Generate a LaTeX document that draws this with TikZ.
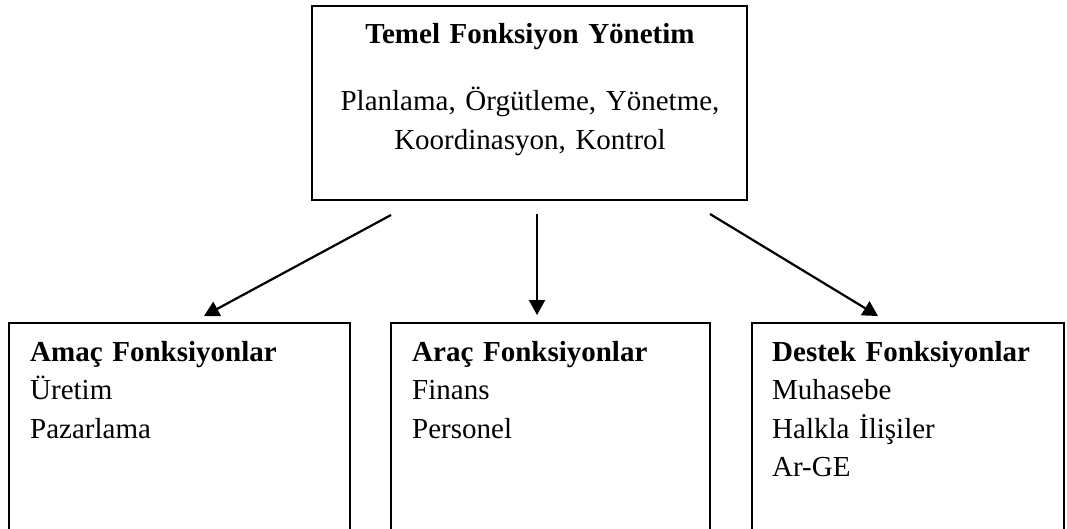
\documentclass[tikz,border=0pt]{standalone}
\usepackage{fontspec}
\setmainfont{Liberation Serif}
\usetikzlibrary{arrows.meta,calc}
\begin{document}
\begin{tikzpicture}[x=1pt,y=-1pt,
  box/.style={draw=black,line width=1.6pt,rectangle,inner sep=0pt,outer sep=0pt,anchor=north west},
  txt/.style={inner sep=0pt,font=\fontsize{29}{38.5}\selectfont,anchor=base west,text width=330pt,align=left},
  ctxt/.style={inner sep=0pt,font=\fontsize{29}{39}\selectfont,anchor=base,text width=430pt,align=center},
  arr/.style={line width=2.2pt,-{Triangle[length=15pt,width=16pt]}}]
\useasboundingbox (0,0) rectangle (1067,528);
\clip (0,0) rectangle (1067,528);
% boxes
\node[box,minimum width=435pt,minimum height=194pt] (top) at (312,6) {};
\node[box,minimum width=341pt,minimum height=230pt] (amac) at (9,323) {};
\node[box,minimum width=319pt,minimum height=230pt] (arac) at (391,323) {};
\node[box,minimum width=312pt,minimum height=230pt] (destek) at (752,323) {};
% texts
\node[ctxt] (toptitle) at (530,43) {\textbf{Temel Fonksiyon Yönetim}};
\node[ctxt] (topbody) at (530,110) {Planlama, Örgütleme, Yönetme,\\Koordinasyon, Kontrol};
\node[txt] (amactxt) at ($(amac.north west)+(21,38)$) {\textbf{Amaç Fonksiyonlar}\\Üretim\\Pazarlama};
\node[txt] (aractxt) at ($(arac.north west)+(21,38)$) {\textbf{Araç Fonksiyonlar}\\Finans\\Personel};
\node[txt] (destektxt) at ($(destek.north west)+(20,38)$) {\textbf{Destek Fonksiyonlar}\\Muhasebe\\Halkla İlişiler\\Ar-GE};
% arrows
\draw[arr] ($(top.south west)+(79,15)$) -- ($(amac.north)+(24.5,-7)$);
\draw[arr] ($(top.south west)+(225,14)$) -- ($(arac.north)+(-13.5,-8)$);
\draw[arr] ($(top.south west)+(398,14)$) -- ($(destek.north)+(-30,-7)$);
\end{tikzpicture}
\end{document}
